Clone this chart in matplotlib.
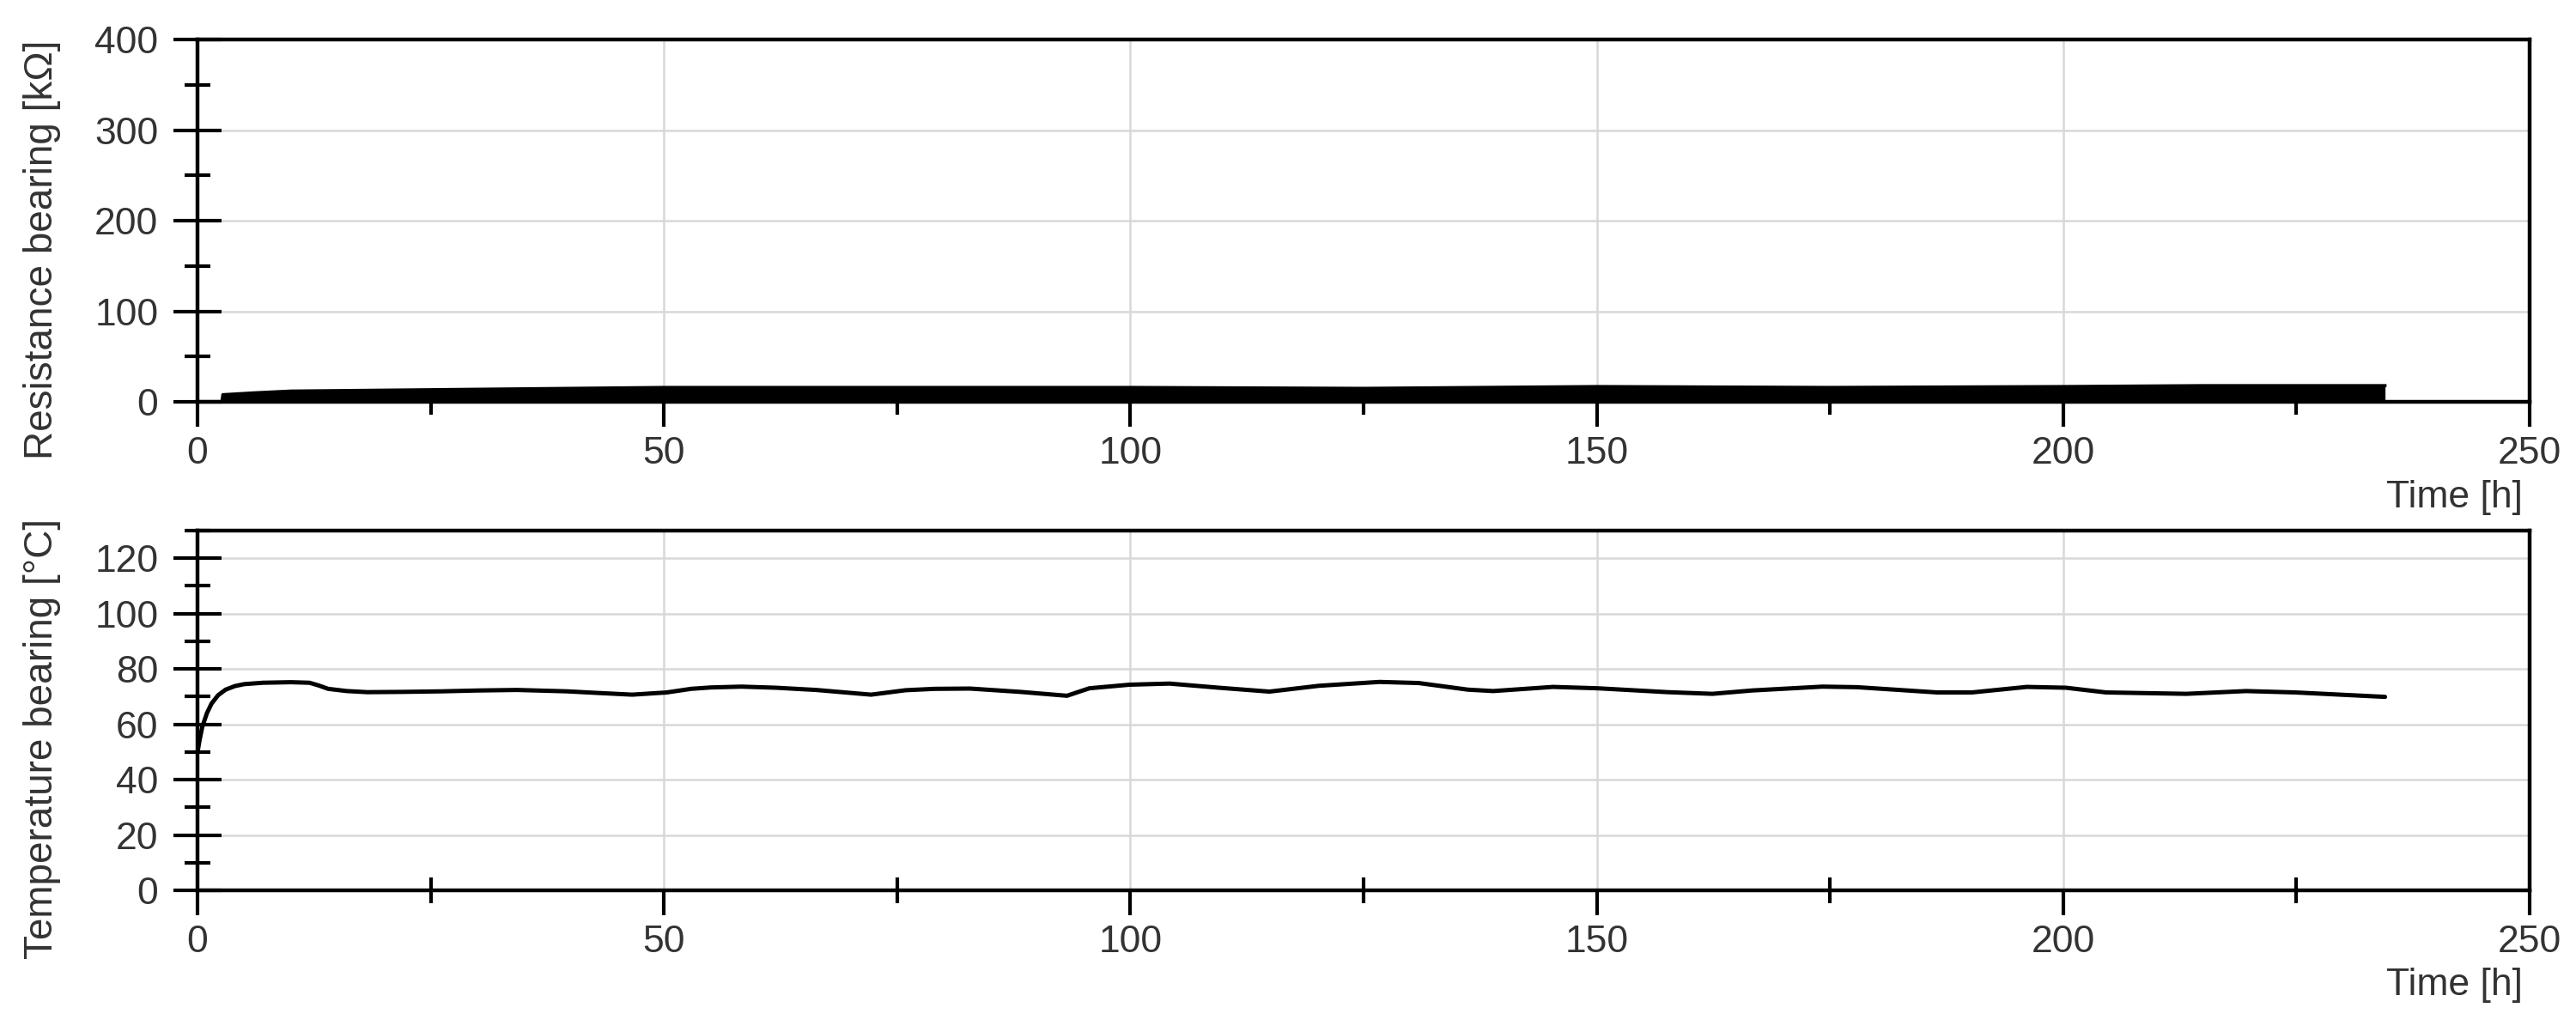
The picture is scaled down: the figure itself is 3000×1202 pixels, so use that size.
import matplotlib
matplotlib.use('Agg')
import matplotlib.pyplot as plt
from matplotlib.ticker import MultipleLocator

plt.rcParams['font.family'] = ['Liberation Sans', 'DejaVu Sans']

# ---- data ----
# Resistance: noisy band, described by its envelope
res_time = [0, 2.6, 2.7, 6, 10, 20, 30, 50, 75, 100, 125, 150, 175, 200, 215, 225, 234.5]
res_upper = [0, 0, 8, 10, 12, 13, 14, 16, 16, 16, 15, 17, 16, 17, 18, 18, 18]
res_lower = [0, 0, 0, 0, 0, 0, 0, 0, 0, 0, 0, 0, 0, 0, 0, 0, 0]

# Temperature bearing
temp_time = [0, 0.2, 0.5, 1.0, 1.5, 2.2, 3, 4, 5, 7, 10, 12, 13, 14, 16, 18.2, 22, 26.2,
             30, 34.2, 39.6, 43, 46.6, 50.3, 52.9, 55, 58.3, 62, 66.3, 72.2, 75.9, 79,
             82.8, 88.2, 93.2, 95.6, 99.9, 104.2, 109.5, 114.9, 120.2, 126.7, 130.9,
             136.2, 138.9, 145.3, 150.1, 157.6, 162.4, 166.6, 174.2, 177.9, 186.5,
             190.2, 196.1, 200.3, 204.6, 213.2, 219.6, 224.9, 234.5]
temp_vals = [50, 54, 59, 64, 67.5, 70.5, 72.5, 73.8, 74.5, 75, 75.2, 75, 74, 72.8, 72,
             71.6, 71.7, 71.9, 72.2, 72.4, 71.9, 71.3, 70.7, 71.5, 72.8, 73.3, 73.6,
             73.2, 72.4, 70.7, 72.3, 72.8, 72.9, 71.7, 70.3, 73, 74.3, 74.7, 73.2,
             71.8, 73.9, 75.3, 74.9, 72.5, 72, 73.5, 73, 71.6, 71, 72.2, 73.6, 73.4,
             71.5, 71.5, 73.5, 73.2, 71.5, 71, 72, 71.5, 69.9]

x_label = 'Time [h]'
y1_label = 'Resistance bearing [kΩ]'
y2_label = 'Temperature bearing [°C]'

TXT = '#333333'
FS = 32

fig = plt.figure(figsize=(30, 12.02), dpi=100)
ax1 = fig.add_axes([0.0767, 0.6106, 0.9053, 0.3511])
ax2 = fig.add_axes([0.0767, 0.1373, 0.9053, 0.3486])


def style(ax, ymax, ymajor, yminor, xminor_dir):
    ax.set_xlim(0, 250)
    ax.set_ylim(0, ymax)
    ax.xaxis.set_major_locator(MultipleLocator(50))
    ax.xaxis.set_minor_locator(MultipleLocator(25))
    ax.yaxis.set_major_locator(MultipleLocator(ymajor))
    ax.yaxis.set_minor_locator(MultipleLocator(yminor))
    ax.set_axisbelow(True)
    ax.grid(True, which='major', color='#d8d8d8', linewidth=1.8)
    for s in ax.spines.values():
        s.set_linewidth(3.2)
        s.set_color('black')
    ax.tick_params(axis='y', which='major', direction='inout', length=40, width=3.0,
                   pad=13, labelsize=FS, labelcolor=TXT)
    ax.tick_params(axis='y', which='minor', direction='inout', length=22, width=3.0)
    ax.tick_params(axis='x', which='major', direction='out', length=21, width=3.0,
                   pad=8, labelsize=FS, labelcolor=TXT)
    ax.tick_params(axis='x', which='minor', direction=xminor_dir,
                   length=11 if xminor_dir == 'out' else 22, width=3.0)
    ax.set_xlabel(x_label, fontsize=FS, color=TXT, ha='right')
    ax.xaxis.set_label_coords(0.997, -0.216)


style(ax1, 400, 100, 50, 'out')
style(ax2, 130, 20, 10, 'inout')

ax1.fill_between(res_time, res_lower, res_upper, color='black', linewidth=0)
ax1.plot(res_time, res_upper, color='black', linewidth=2.5)
ax1.plot(res_time, res_lower, color='black', linewidth=2.5)
ax1.set_ylabel(y1_label, fontsize=33, color=TXT)
ax1.yaxis.set_label_coords(-0.0585, 0.42)

ax2.plot(temp_time, temp_vals, color='black', linewidth=3.6,
         solid_joinstyle='round', solid_capstyle='round')
ax2.set_ylabel(y2_label, fontsize=33, color=TXT)
ax2.yaxis.set_label_coords(-0.0585, 0.42)

fig.savefig('out.png', dpi=100)
